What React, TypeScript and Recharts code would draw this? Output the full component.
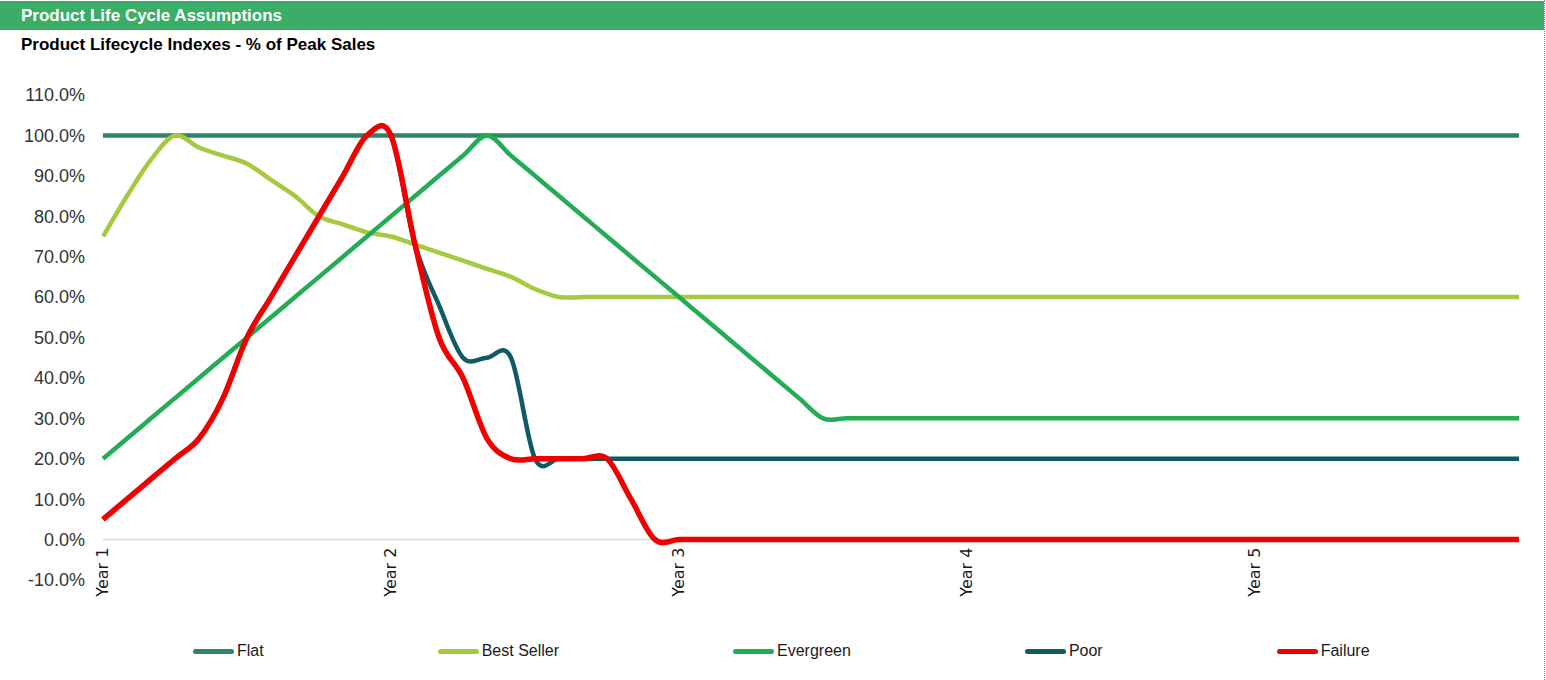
import React from 'react';
import { LineChart, Line, XAxis, YAxis, ReferenceLine, Legend } from 'recharts';

// ---------- data ----------
const MONTHS = [
  1, 2, 3, 4, 5, 6, 7, 8, 9, 10, 11, 12,
  13, 14, 15, 16, 17, 18, 19, 20, 21, 22, 23, 24,
  25, 26, 27, 28, 29, 30, 31, 32, 33, 34, 35, 36,
  37, 38, 39, 40, 41, 42, 43, 44, 45, 46, 47, 48,
  49, 50, 51, 52, 53, 54, 55, 56, 57, 58, 59, 60,
];

const YEAR_TICKS = [1, 13, 25, 37, 49];
const YEAR_LABELS = ['Year 1', 'Year 2', 'Year 3', 'Year 4', 'Year 5'];
const Y_TICKS = [-10, 0, 10, 20, 30, 40, 50, 60, 70, 80, 90, 100, 110];

const FLAT = [
  100, 100, 100, 100, 100, 100, 100, 100, 100, 100, 100, 100,
  100, 100, 100, 100, 100, 100, 100, 100, 100, 100, 100, 100,
  100, 100, 100, 100, 100, 100, 100, 100, 100, 100, 100, 100,
  100, 100, 100, 100, 100, 100, 100, 100, 100, 100, 100, 100,
  100, 100, 100, 100, 100, 100, 100, 100, 100, 100, 100, 100,
];

const BEST_SELLER = [
  75, 85, 94, 100, 97, 95, 93, 89, 85, 80, 78, 76,
  75, 73, 71, 69, 67, 65, 62, 60, 60, 60, 60, 60,
  60, 60, 60, 60, 60, 60, 60, 60, 60, 60, 60, 60,
  60, 60, 60, 60, 60, 60, 60, 60, 60, 60, 60, 60,
  60, 60, 60, 60, 60, 60, 60, 60, 60, 60, 60, 60,
];

const EVERGREEN = [
  20, 25, 30, 35, 40, 45, 50, 55, 60, 65, 70, 75,
  80, 85, 90, 95, 100, 95, 90, 85, 80, 75, 70, 65,
  60, 55, 50, 45, 40, 35, 30, 30, 30, 30, 30, 30,
  30, 30, 30, 30, 30, 30, 30, 30, 30, 30, 30, 30,
  30, 30, 30, 30, 30, 30, 30, 30, 30, 30, 30, 30,
];

const POOR = [
  5, 10, 15, 20, 25, 35, 50, 60, 70, 80, 90, 100,
  100, 73, 58, 45, 45, 45, 20, 20, 20, 20, 20, 20,
  20, 20, 20, 20, 20, 20, 20, 20, 20, 20, 20, 20,
  20, 20, 20, 20, 20, 20, 20, 20, 20, 20, 20, 20,
  20, 20, 20, 20, 20, 20, 20, 20, 20, 20, 20, 20,
];

const FAILURE = [
  5, 10, 15, 20, 25, 35, 50, 60, 70, 80, 90, 100,
  100, 73, 50, 40, 25, 20, 20, 20, 20, 20, 10, 0,
  0, 0, 0, 0, 0, 0, 0, 0, 0, 0, 0, 0,
  0, 0, 0, 0, 0, 0, 0, 0, 0, 0, 0, 0,
  0, 0, 0, 0, 0, 0, 0, 0, 0, 0, 0, 0,
];

const SERIES_KEYS = ['flat', 'bestSeller', 'evergreen', 'poor', 'failure'];
const SERIES_NAMES = ['Flat', 'Best Seller', 'Evergreen', 'Poor', 'Failure'];
const SERIES_COLORS = ['#2e8566', '#a6c940', '#22ad55', '#105b63', '#f00000'];
const SERIES_WIDTHS = [4.5, 4.5, 4.5, 4.5, 5.5];

const rows = MONTHS.map((m, i) => ({
  month: m,
  flat: FLAT[i],
  bestSeller: BEST_SELLER[i],
  evergreen: EVERGREEN[i],
  poor: POOR[i],
  failure: FAILURE[i],
}));

// ---------- layout ----------
const W = 1546;
const H = 680;
const PLOT_TOP = 95;
const PLOT_BOTTOM = 580;
const PLOT_LEFT = 103;
const PLOT_RIGHT = 1519;
const Y_AXIS_W = 80;
const X_AXIS_H = 60;
const Y_MIN = -10;
const Y_MAX = 110;
const FONT = "'Liberation Sans', Arial, sans-serif";

// px between plot bottom and the 0% line (derived from the domain)
const ZERO_OFFSET = ((PLOT_BOTTOM - PLOT_TOP) * (0 - Y_MIN)) / (Y_MAX - Y_MIN);

// Excel-like smoothed line (Catmull-Rom as cubic Bezier)
function excelSmooth(context: any) {
  let pts: number[][] = [];
  return {
    areaStart() {},
    areaEnd() {},
    lineStart() {
      pts = [];
    },
    lineEnd() {
      const n = pts.length;
      if (n === 0) return;
      context.moveTo(pts[0][0], pts[0][1]);
      for (let i = 0; i < n - 1; i++) {
        const p0 = pts[i - 1] || pts[i];
        const p1 = pts[i];
        const p2 = pts[i + 1];
        const p3 = pts[i + 2] || p2;
        const c1x = p1[0] + (p2[0] - p0[0]) / 6;
        const c1y = p1[1] + (p2[1] - p0[1]) / 6;
        const c2x = p2[0] - (p3[0] - p1[0]) / 6;
        const c2y = p2[1] - (p3[1] - p1[1]) / 6;
        context.bezierCurveTo(c1x, c1y, c2x, c2y, p2[0], p2[1]);
      }
    },
    point(x: number, y: number) {
      pts.push([+x, +y]);
    },
  };
}

function YearTick(props: any) {
  const { x, y, payload } = props;
  const idx = YEAR_TICKS.indexOf(payload.value);
  const label = idx >= 0 ? YEAR_LABELS[idx] : '';
  const ty = y - ZERO_OFFSET + 8;
  return (
    <text
      x={x}
      y={ty}
      transform={`rotate(-90, ${x}, ${ty})`}
      textAnchor="end"
      dominantBaseline="central"
      fontFamily="'DejaVu Sans', sans-serif"
      fontSize={16}
      fill="#1a1a1a"
    >
      {label}
    </text>
  );
}

function LegendRow() {
  return (
    <div
      style={{
        display: 'flex',
        alignItems: 'center',
        height: 26,
        paddingLeft: 193,
        fontFamily: FONT,
        fontSize: 16,
        color: '#1a1a1a',
      }}
    >
      {SERIES_NAMES.map((name, i) => (
        <div
          key={name}
          style={{ display: 'flex', alignItems: 'center', marginRight: i < SERIES_NAMES.length - 1 ? 174 : 0 }}
        >
          <span
            style={{
              display: 'inline-block',
              width: 41,
              height: 5,
              borderRadius: 3,
              background: SERIES_COLORS[i],
            }}
          />
          <span style={{ marginLeft: 3, whiteSpace: 'nowrap' }}>{name}</span>
        </div>
      ))}
    </div>
  );
}

export default function App() {
  return (
    <div
      style={{
        position: 'absolute',
        left: 0,
        top: 0,
        width: W,
        height: H,
        background: '#fff',
        overflow: 'hidden',
      }}
    >
      <div
        style={{
          position: 'absolute',
          left: 0,
          top: 1,
          width: 1544,
          height: 29,
          background: '#3aad66',
          color: '#fff',
          fontFamily: FONT,
          fontWeight: 'bold',
          fontSize: 17,
          lineHeight: '29px',
          paddingLeft: 21,
          boxSizing: 'border-box',
        }}
      >
        Product Life Cycle Assumptions
      </div>
      <div
        style={{
          position: 'absolute',
          left: 21,
          top: 34,
          fontFamily: FONT,
          fontWeight: 'bold',
          fontSize: 17,
          lineHeight: '22px',
          color: '#000',
        }}
      >
        Product Lifecycle Indexes - % of Peak Sales
      </div>
      <div
        style={{
          position: 'absolute',
          left: 1544,
          top: 0,
          width: 0,
          height: H,
          borderLeft: '1px dotted #8a8a8a',
        }}
      />
      <div style={{ position: 'absolute', left: 0, top: 0 }}>
        <LineChart
          width={W}
          height={H}
          data={rows}
          margin={{
            top: PLOT_TOP,
            bottom: H - PLOT_BOTTOM - X_AXIS_H,
            left: PLOT_LEFT - Y_AXIS_W,
            right: W - PLOT_RIGHT,
          }}
        >
          <XAxis
            dataKey="month"
            type="number"
            domain={[1, 60]}
            ticks={YEAR_TICKS}
            interval={0}
            tick={<YearTick />}
            tickLine={false}
            axisLine={false}
            tickSize={0}
            tickMargin={0}
            height={X_AXIS_H}
          />
          <YAxis
            type="number"
            domain={[Y_MIN, Y_MAX]}
            ticks={Y_TICKS}
            interval={0}
            width={Y_AXIS_W}
            axisLine={false}
            tickLine={false}
            tickSize={0}
            tickMargin={18}
            tickFormatter={(v: number) => `${v.toFixed(1)}%`}
            tick={{ fontSize: 18, fill: '#333', fontFamily: FONT }}
          />
          <ReferenceLine y={0} stroke="#d9d9d9" strokeWidth={1.5} />
          {SERIES_KEYS.map((k, i) => (
            <Line
              key={k}
              dataKey={k}
              name={SERIES_NAMES[i]}
              type={excelSmooth as any}
              stroke={SERIES_COLORS[i]}
              strokeWidth={SERIES_WIDTHS[i]}
              dot={false}
              activeDot={false}
              isAnimationActive={false}
            />
          ))}
          <Legend
            layout="horizontal"
            verticalAlign="middle"
            align="center"
            wrapperStyle={{ top: 638, left: 0, width: W, height: 26 }}
            content={() => <LegendRow />}
          />
        </LineChart>
      </div>
    </div>
  );
}
